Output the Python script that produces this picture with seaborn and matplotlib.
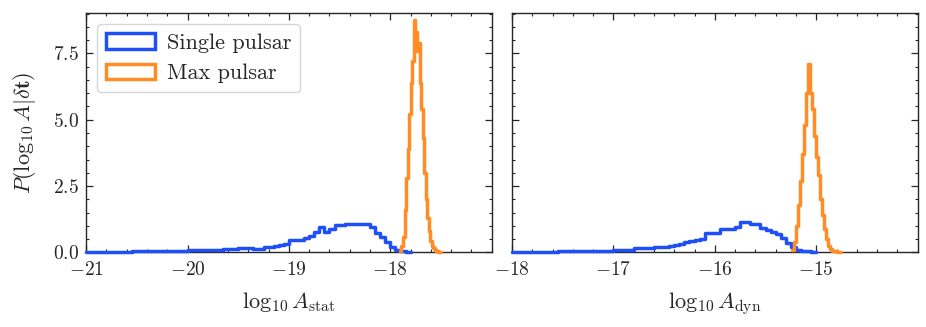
import numpy as np
import pandas as pd
import matplotlib
matplotlib.use("Agg")
import matplotlib.pyplot as plt
import matplotlib.patches as mpatches
from matplotlib.ticker import MultipleLocator, FixedLocator
import seaborn as sns

# === datos (densidades por bin) ===
# panel izquierdo: log10 A_stat  (inicio, ancho de bin, densidades)
stat_single_start, stat_single_width = -21.0, 0.05
stat_single_dens = [
    0.02, 0.02, 0.02, 0.02, 0.03, 0.03, 0.03, 0.03, 0.03, 0.04,
    0.04, 0.04, 0.05, 0.05, 0.05, 0.06, 0.06, 0.06, 0.07, 0.07,
    0.08, 0.08, 0.09, 0.09, 0.10, 0.10, 0.11, 0.12, 0.13, 0.13,
    0.16, 0.18, 0.17, 0.14, 0.13, 0.19, 0.21, 0.24, 0.27, 0.30,
    0.47, 0.48, 0.46, 0.56, 0.62, 0.76, 0.95, 0.78, 0.87, 1.03,
    1.05, 1.09, 1.06, 1.09, 1.08, 1.09, 0.96, 0.74, 0.58, 0.40,
    0.22, 0.10, 0.04, 0.02,
]
stat_max_start, stat_max_width = -17.905, 0.015
stat_max_dens = [
    0.05, 0.25, 0.6, 1.6, 2.8, 3.9, 5.2, 6.4, 7.2, 8.75,
    8.3, 7.6, 7.9, 6.4, 5.4, 4.3, 3.0, 2.0, 1.3, 0.8,
    0.45, 0.25, 0.15, 0.1, 0.05, 0.02, 0.0,
]

# panel derecho: log10 A_dyn
dyn_single_start, dyn_single_width = -18.0, 0.05
dyn_single_dens = [
    0.02, 0.02, 0.02, 0.02, 0.03, 0.03, 0.03, 0.03, 0.03, 0.04,
    0.04, 0.04, 0.04, 0.05, 0.05, 0.05, 0.06, 0.06, 0.06, 0.07,
    0.08, 0.08, 0.09, 0.09, 0.18, 0.15, 0.15, 0.17, 0.20, 0.21,
    0.22, 0.25, 0.28, 0.32, 0.38, 0.42, 0.46, 0.52, 0.72, 0.75,
    0.72, 0.88, 0.87, 0.90, 0.97, 1.13, 1.13, 1.07, 1.07, 0.92,
    0.84, 0.78, 0.68, 0.53, 0.34, 0.22, 0.09, 0.06, 0.05, 0.03,
]
dyn_max_start, dyn_max_width = -15.24, 0.02
dyn_max_dens = [
    0.1, 0.4, 1.0, 1.8, 2.7, 3.7, 4.8, 6.0, 7.1, 6.0,
    5.4, 4.4, 3.6, 2.9, 2.0, 1.4, 0.9, 0.5, 0.25, 0.12,
    0.07, 0.04, 0.02, 0.01,
]

labels = ["Single pulsar", "Max pulsar"]
colores = ["#1f4ff7", "#ff8c24"]

# === estilo ===
sns.set_style("ticks")
plt.rcParams.update({
    "font.family": "serif",
    "font.serif": ["cmr10"],
    "mathtext.fontset": "cm",
    "axes.formatter.use_mathtext": True,
    "font.size": 14,
    "axes.linewidth": 1.0,
    "xtick.direction": "in",
    "ytick.direction": "in",
    "xtick.top": True,
    "ytick.right": True,
    "xtick.major.size": 5,
    "ytick.major.size": 5,
    "xtick.minor.size": 2.5,
    "ytick.minor.size": 2.5,
    "xtick.major.width": 0.9,
    "ytick.major.width": 0.9,
    "xtick.minor.width": 0.8,
    "ytick.minor.width": 0.8,
    "xtick.major.pad": 6,
    "ytick.major.pad": 5,
})

fig, (ax1, ax2) = plt.subplots(1, 2, figsize=(9.26, 3.27), dpi=100, sharey=True)
fig.subplots_adjust(left=0.093, right=0.991, top=0.960, bottom=0.228, wspace=0.05)


def paso(ax, start, width, dens, color, z):
    n = len(dens)
    centros = start + width * (np.arange(n) + 0.5)
    d = pd.DataFrame({"x": centros, "w": dens})
    sns.histplot(data=d, x="x", weights="w", binwidth=width,
                 binrange=(start, start + n * width), element="step", fill=False,
                 stat="count", color=color, linewidth=2.5, zorder=z,
                 clip_on=False, ax=ax)


paso(ax1, stat_single_start, stat_single_width, stat_single_dens, colores[0], 3)
paso(ax1, stat_max_start, stat_max_width, stat_max_dens, colores[1], 4)
paso(ax2, dyn_single_start, dyn_single_width, dyn_single_dens, colores[0], 3)
paso(ax2, dyn_max_start, dyn_max_width, dyn_max_dens, colores[1], 4)

ax1.set_xlim(-21, -17)
ax2.set_xlim(-18, -14)
ax1.set_ylim(0, 9.02)
ax1.xaxis.set_major_locator(FixedLocator([-21, -20, -19, -18]))
ax2.xaxis.set_major_locator(FixedLocator([-18, -17, -16, -15]))
for ax in (ax1, ax2):
    ax.xaxis.set_minor_locator(MultipleLocator(0.2))
    ax.yaxis.set_major_locator(MultipleLocator(2.5))
    ax.yaxis.set_minor_locator(MultipleLocator(0.5))
    ax.tick_params(which="both", top=True, right=True, direction="in")
    for s in ax.spines.values():
        s.set_zorder(1)
ax2.tick_params(labelleft=False)

ax1.set_xlabel(r"$\log_{10} A_{\mathrm{stat}}$", fontsize=16, labelpad=8)
ax2.set_xlabel(r"$\log_{10} A_{\mathrm{dyn}}$", fontsize=16, labelpad=8)
ax1.set_ylabel(r"$P(\log_{10} A|\delta\mathbf{t})$", fontsize=16, labelpad=11)
ax2.set_ylabel("")

handles = [mpatches.Patch(facecolor="none", edgecolor=c, linewidth=2.5) for c in colores]
leg = ax1.legend(handles, labels, loc="upper left", fontsize=16, handlelength=2.2,
                 handletextpad=0.55, frameon=True, fancybox=True)
leg.set_zorder(5)

plt.savefig("out.png", dpi=100)
plt.close()
